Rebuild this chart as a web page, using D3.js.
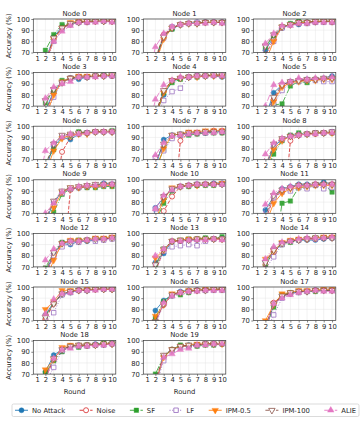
<!DOCTYPE html>
<html><head><meta charset="utf-8">
<script src="https://cdn.jsdelivr.net/npm/d3@7"></script>
<style>body{margin:0;background:#fff} svg{display:block} text{font-family:"DejaVu Sans",sans-serif;fill:#262626}</style>
</head><body><svg id="c" width="361" height="423"></svg>
<script>
const rounds = [1,2,3,4,5,6,7,8,9,10];
const nodeNames = d3.range(20).map(i => "Node " + i);
const yTicks = [70, 80, 90, 100];
const seriesNames = ["No Attack","Noise","SF","LF","IPM-0.5","IPM-100","ALIE"];

const noAttack = [
[35,62,84,93,96,97,98,98,98,98],[34,62,85,91,95,96,97,97,97,97],[38,72,84,92,95,95,97,97,98,98],
[35,66,83,92,95,94,96,97,97,97],[33,62,80,92,95,96,97,97,97,96],[30,60,82,89,92,93,94,94,95,97],
[33,62,82,90,88,93,94,95,95,95],[33,63,88,92,93,93,94,94,95,95],[32,62,82,88,91,93,93,94,94,95],
[30,62,80,89,92,93,94,95,97,96],[38,75,84,92,94,95,96,96,97,97],[37,73,85,92,94,96,96,96,98,96],
[33,64,82,91,90,93,93,94,95,96],[37,74,82,93,93,94,94,95,95,96],[38,75,83,91,93,94,94,94,95,96],
[38,75,86,93,95,97,97,98,98,98],[40,79,88,93,96,97,97,98,98,98],[33,62,84,92,94,96,96,97,97,97],
[36,72,87,92,95,96,96,97,97,97],[30,60,86,92,95,96,96,97,97,97]];
const noise = [
[33,60,82,92,95,97,97,98,98,98],[33,64,86,92,95,96,96,97,97,97],[36,68,82,93,95,96,97,97,98,97],
[34,64,82,91,95,96,96,97,97,97],[34,64,83,93,95,96,97,97,98,97],[30,58,76,88,91,93,93,94,94,95],
[20,35,30,77,90,94,94,95,95,95],[20,30,20,5,87,94,94,95,96,96],[20,30,20,5,87,92,93,93,94,94],
[30,60,60,8,91,93,94,94,95,95],[30,55,72,85,94,95,95,96,96,96],[33,64,84,90,93,95,95,96,96,96],
[32,62,80,91,93,93,94,95,95,96],[34,66,85,93,93,94,95,95,95,95],[36,72,83,91,93,94,95,95,96,96],
[36,71,85,94,96,97,97,98,98,98],[35,70,84,93,95,96,97,97,98,98],[34,64,86,92,94,96,96,97,97,97],
[34,66,83,92,95,95,96,96,97,97],[32,64,86,92,95,95,96,97,97,97]];
const sf = [
[38,72,86,95,96,97,98,98,98,98],[35,65,84,91,95,96,96,97,97,97],[40,75,85,93,96,98,97,98,98,98],
[38,73,84,93,95,96,96,97,98,98],[34,62,82,91,94,96,96,97,98,97],[25,52,71,72,88,92,91,94,94,95],
[35,68,79,90,91,95,94,95,95,96],[34,62,79,91,92,92,93,94,94,94],[30,58,75,87,92,94,93,94,94,94],
[28,55,71,87,92,93,93,93,94,94],[33,62,79,90,94,94,95,95,95,96],[20,40,30,79,81,93,94,95,96,89],
[35,69,83,92,92,94,94,95,95,96],[35,70,86,93,94,95,95,96,95,97],[36,70,86,90,92,94,95,96,96,96],
[37,74,86,94,96,97,97,98,98,98],[36,72,87,93,93,95,97,97,98,98],[34,63,82,93,95,96,96,96,97,97],
[35,71,82,90,95,94,96,96,98,98],[35,70,86,92,96,95,95,96,96,97]];
const lf = [
[30,58,80,91,95,97,97,98,98,98],[30,60,83,93,95,96,97,97,97,97],[35,66,80,92,95,96,96,97,97,97],
[32,62,78,91,95,96,96,97,97,97],[30,58,75,83,86,96,97,97,98,97],[28,55,72,84,91,92,93,93,92,92],
[32,62,84,91,92,93,94,95,95,95],[36,72,78,89,92,93,94,94,95,95],[33,62,81,88,91,92,93,94,94,95],
[32,64,80,88,92,93,94,95,95,96],[37,74,85,91,94,95,96,96,96,96],[34,65,84,89,90,93,92,95,92,93],
[33,64,80,88,91,92,94,93,94,95],[34,66,84,88,89,90,89,93,95,95],[35,68,79,90,93,94,95,95,96,96],
[35,70,77,93,95,97,97,98,98,98],[34,66,85,92,95,96,97,97,97,97],[30,58,75,90,94,95,96,97,97,97],
[32,62,76,91,94,95,95,96,96,97],[30,58,82,91,94,95,96,97,97,98]];
const ipm05 = [
[34,60,82,92,97,98,98,98,98,98],[33,60,82,92,95,96,96,97,97,97],[33,62,80,93,95,97,97,98,98,98],
[33,60,80,92,95,97,97,97,97,98],[33,60,82,93,95,96,96,97,97,97],[28,55,74,87,91,92,93,93,94,94],
[30,58,78,89,92,93,93,95,95,95],[32,60,80,92,93,95,95,96,96,96],[32,60,79,87,91,92,93,94,94,94],
[30,58,75,89,93,93,94,94,95,95],[34,64,82,93,94,95,95,96,96,97],[33,60,79,88,92,93,94,95,95,95],
[30,58,76,91,94,94,94,96,96,97],[38,78,85,93,94,95,95,95,95,95],[38,77,84,92,94,95,95,96,97,97],
[40,80,87,97,97,97,98,98,98,98],[37,74,84,94,95,97,97,98,98,98],[35,70,84,94,95,97,97,97,98,98],
[38,74,83,94,96,96,96,96,97,97],[31,62,85,92,95,96,97,97,97,97]];
const ipm100 = [
[33,62,83,92,96,97,98,98,98,98],[33,63,84,92,95,96,96,97,97,97],[39,76,86,93,95,97,97,98,98,98],
[36,75,85,91,95,96,96,97,97,98],[34,63,84,93,95,96,97,97,98,98],[30,60,78,89,92,93,94,94,95,95],
[34,65,84,92,93,94,94,95,95,95],[35,68,84,92,93,94,94,95,95,95],[34,64,84,89,91,92,93,94,94,95],
[32,65,81,90,93,94,95,96,96,96],[35,66,85,92,94,95,96,96,96,96],[35,68,86,91,93,95,95,96,96,96],
[34,66,83,91,93,93,94,95,95,96],[36,72,86,93,94,94,95,95,95,95],[37,74,85,91,93,94,95,96,96,96],
[37,73,85,94,96,97,97,98,98,98],[35,69,85,93,95,96,97,97,98,98],[34,64,85,92,95,96,96,97,97,97],
[35,68,84,92,95,96,96,96,97,97],[32,64,87,92,95,96,96,97,97,98]];
const alie = [
[32,64,80,89,94,97,97,97,98,97],[40,75,87,93,95,96,96,96,97,96],[41,78,87,94,94,96,96,97,97,97],
[40,77,87,90,92,96,96,96,97,97],[40,76,89,93,96,96,97,97,97,97],[38,70,89,91,92,95,94,95,95,96],
[40,78,85,90,93,93,94,95,95,95],[38,74,85,91,92,93,94,94,94,95],[38,75,85,89,91,92,93,93,94,94],
[35,70,79,89,92,94,95,95,96,96],[37,74,86,91,94,95,96,96,96,96],[39,78,88,92,94,95,95,96,96,96],
[38,76,86,91,93,93,94,95,95,96],[40,80,86,93,93,94,94,94,95,94],[38,77,88,92,93,95,96,96,96,97],
[38,76,89,94,95,97,97,97,98,98],[34,67,86,92,95,96,96,97,97,97],[33,62,85,90,93,95,96,97,96,96],
[34,65,84,92,93,95,95,96,96,97],[30,60,85,88,92,93,96,96,97,97]];

const seriesData = [noAttack, noise, sf, lf, ipm05, ipm100, alie];
const colors = ["#1f77b4","#d62728","#2ca02c","#9467bd","#ff7f0e","#8c564b","#e377c2"];
const dashes = [null,"3.7,1.6","6.4,1.6,1,1.6","1,1.65",null,"3.7,1.6","6.4,1.6,1,1.6"];
const sym = [d3.symbolCircle,d3.symbolCircle,d3.symbolSquare,d3.symbolSquare,d3.symbolTriangle,d3.symbolTriangle,d3.symbolTriangle];
const symRot = [0,0,0,0,180,180,0];
const symSize = [20,20,20,20,18,18,18];
const openMark = [false,true,false,true,false,true,false];

const svg = d3.select("#c");
const colLeft = [33.3, 143.3, 253.3], W = 82.5, H = 33.5;
const rowTop = r => 19 + 53.6 * r;
const fs = 6.8;

const x = d3.scaleLinear().domain([0.55, 10.45]).range([0, W]);
const y = d3.scaleLinear().domain([70, 100]).range([H, 0]);
const line = d3.line().x((d,i) => x(rounds[i])).y(d => y(d));

nodeNames.forEach((name, n) => {
  const r = Math.floor(n / 3), c = n % 3;
  const g = svg.append("g").attr("transform", `translate(${colLeft[c]},${rowTop(r)})`);
  g.append("clipPath").attr("id", "cp" + n).append("rect").attr("width", W).attr("height", H);
  // grid
  g.selectAll(".gx").data(rounds).join("line").attr("x1", d => x(d)).attr("x2", d => x(d))
    .attr("y1", 0).attr("y2", H).attr("stroke", "#e5e5e5").attr("stroke-width", 0.5);
  g.selectAll(".gy").data(yTicks).join("line").attr("y1", d => y(d)).attr("y2", d => y(d))
    .attr("x1", 0).attr("x2", W).attr("stroke", "#e5e5e5").attr("stroke-width", 0.5);
  const pg = g.append("g").attr("clip-path", `url(#cp${n})`);
  seriesData.forEach((s, k) => {
    const vals = s[n];
    pg.append("path").attr("d", line(vals)).attr("fill", "none").attr("stroke", colors[k])
      .attr("stroke-width", 0.9).attr("stroke-dasharray", dashes[k]).attr("opacity", 0.9);
    pg.selectAll(null).data(vals).join("path")
      .attr("d", d3.symbol(sym[k], symSize[k]))
      .attr("transform", (d,i) => `translate(${x(rounds[i])},${y(d)}) rotate(${symRot[k]})`)
      .attr("fill", openMark[k] ? "#fff" : colors[k]).attr("stroke", colors[k])
      .attr("stroke-width", openMark[k] ? 0.8 : 0.4).attr("opacity", 0.9);
  });
  // axes
  const ax = g.append("g").attr("transform", `translate(0,${H})`)
    .call(d3.axisBottom(x).tickValues(rounds).tickSize(2).tickPadding(1.5).tickFormat(d3.format("d")));
  const ay = g.append("g").call(d3.axisLeft(y).tickValues(yTicks).tickSize(2).tickPadding(1.5));
  [ax, ay].forEach(a => {
    a.select(".domain").remove();
    a.selectAll("line").attr("stroke", "#333").attr("stroke-width", 0.6);
    a.selectAll("text").attr("font-size", fs).attr("font-family", "DejaVu Sans").attr("fill", "#262626");
  });
  g.append("rect").attr("width", W).attr("height", H).attr("fill", "none")
    .attr("stroke", "#3a3a3a").attr("stroke-width", 0.7);
  g.append("text").attr("x", W / 2).attr("y", -3.5).attr("text-anchor", "middle")
    .attr("font-size", fs).text(name);
  if (c === 0) {
    g.append("text").attr("transform", `translate(${9.5 - colLeft[0]},${H / 2}) rotate(-90)`)
      .attr("text-anchor", "middle").attr("dominant-baseline", "middle")
      .attr("font-size", fs).text("Accuracy (%)");
  }
  if (r === 6) {
    g.append("text").attr("x", W / 2).attr("y", H + 19.5).attr("text-anchor", "middle")
      .attr("font-size", fs).text("Round");
  }
});

// legend
const lg = svg.append("g");
const LX = 12, LY = 404, LW = 347, LH = 12.5;
lg.append("rect").attr("x", LX).attr("y", LY).attr("width", LW).attr("height", LH)
  .attr("rx", 1.5).attr("fill", "#fff").attr("stroke", "#cccccc").attr("stroke-width", 0.7);
const items = seriesNames.map((nm, k) => {
  const t = lg.append("text").attr("font-size", fs).attr("y", LY + LH / 2 + 2.4).text(nm);
  return { t, w: t.node().getComputedTextLength(), k };
});
const handle = 13, hgap = 4, padL = 3, padR = 3;
const total = d3.sum(items, d => handle + hgap + d.w);
const gap = (LW - padL - padR - total) / (items.length - 1);
let cx = LX + padL;
const ym = LY + LH / 2;
items.forEach(it => {
  const k = it.k;
  lg.append("line").attr("x1", cx).attr("x2", cx + handle).attr("y1", ym).attr("y2", ym)
    .attr("stroke", colors[k]).attr("stroke-width", 0.9).attr("stroke-dasharray", dashes[k]);
  lg.append("path").attr("d", d3.symbol(sym[k], symSize[k]))
    .attr("transform", `translate(${cx + handle / 2},${ym}) rotate(${symRot[k]})`)
    .attr("fill", openMark[k] ? "#fff" : colors[k]).attr("stroke", colors[k])
    .attr("stroke-width", openMark[k] ? 0.8 : 0.4);
  it.t.attr("x", cx + handle + hgap).raise();
  cx += handle + hgap + it.w + gap;
});
</script></body></html>
